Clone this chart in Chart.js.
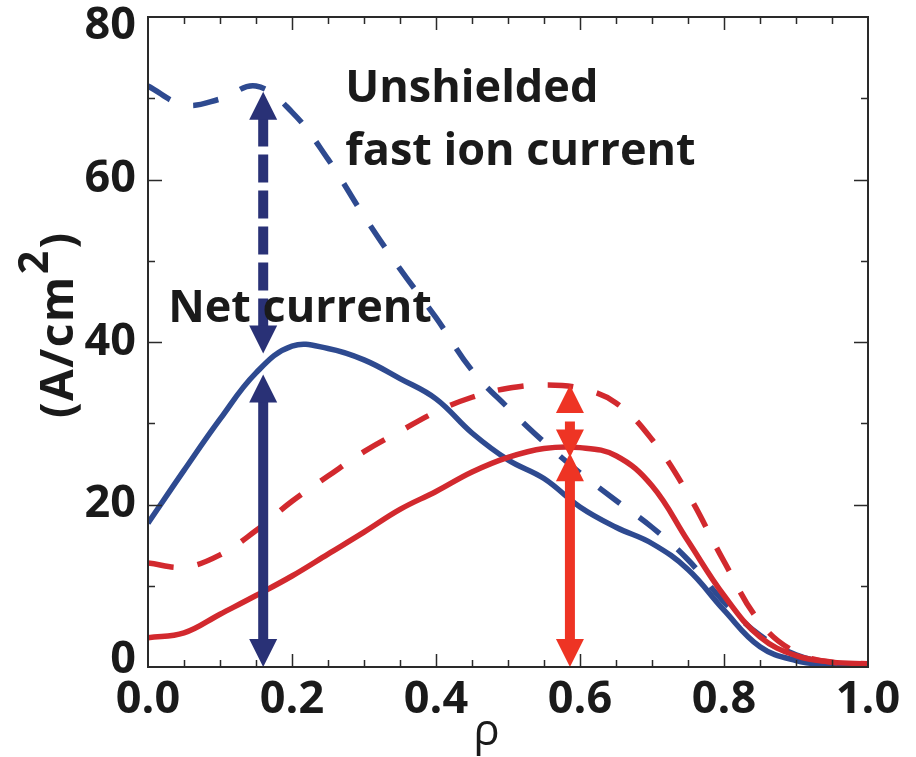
<!DOCTYPE html>
<html>
<head>
<meta charset="utf-8">
<script src="https://cdn.jsdelivr.net/npm/chart.js@4.4.1/dist/chart.umd.min.js"></script>
<style>
  html, body { margin: 0; padding: 0; background: #ffffff; }
  #wrap { width: 916px; height: 757px; }
</style>
</head>
<body>
<div id="wrap"><canvas id="c" width="916" height="757"></canvas></div>
<script>
// ---- Data ----
const rho = [0.00, 0.05, 0.10, 0.15, 0.20, 0.25, 0.30, 0.35, 0.40, 0.45, 0.50,
             0.55, 0.60, 0.65, 0.70, 0.75, 0.80, 0.85, 0.90, 0.95, 1.00];
const unshieldedFastIonBlue = [71.5, 69.2, 69.9, 71.5, 68.3, 62.5, 55.5, 49.0, 43.0, 36.5, 31.9,
                               27.7, 23.9, 20.5, 17.2, 13.2, 8.0, 3.9, 1.5, 0.5, 0.2];
const netCurrentBlue        = [17.7, 24.2, 30.5, 36.2, 39.5, 39.2, 37.8, 35.5, 33.0, 28.8, 25.5,
                               23.2, 19.7, 17.2, 15.2, 12.0, 7.0, 2.5, 0.8, 0.2, 0.0];
const unshieldedFastIonRed  = [12.8, 12.3, 13.8, 16.8, 20.4, 23.5, 26.5, 29.0, 31.4, 33.2, 34.3,
                               34.7, 34.3, 32.5, 28.0, 21.3, 13.0, 5.5, 1.8, 0.6, 0.4];
const netCurrentRed         = [3.6, 4.2, 6.5, 8.8, 11.2, 13.9, 16.6, 19.4, 21.6, 24.0, 25.8,
                               26.9, 27.0, 26.0, 22.3, 15.5, 8.8, 3.7, 1.4, 0.6, 0.4];

// double arrows: position on rho axis, lower and upper tip values
const arrowRho   = [0.16, 0.16, 0.586, 0.586];
const arrowLow   = [38.6, 0.0, 25.8, 0.0];
const arrowHigh  = [70.8, 36.0, 34.7, 26.3];
const arrowDashed = [true, false, true, false];

const xTicks = [0.0, 0.2, 0.4, 0.6, 0.8, 1.0];
const yTicks = [0, 20, 40, 60, 80];

const annotations = [
  { text: 'Unshielded', x: 0.274, y: 69.5 },
  { text: 'fast ion current', x: 0.274, y: 61.8 },
  { text: 'Net current', x: 0.028, y: 42.5 }
];

// ---- Styles ----
const BLUE = '#2e4a90';
const RED = '#d2292e';
const BLUE_ARROW = '#293176';
const RED_ARROW = '#ee3424';
const INK = '#1a1a1a';
const FONT = '"Open Sans", "Liberation Sans", sans-serif';

function pts(ys) { return rho.map((x, i) => ({ x: x, y: ys[i] })); }

const frameAndTicks = {
  id: 'frameAndTicks',
  afterDraw(chart) {
    const { ctx, chartArea: a, scales: { x, y } } = chart;
    ctx.save();
    ctx.strokeStyle = '#2a2a2a';
    ctx.lineWidth = 2;
    ctx.strokeRect(a.left, a.top, a.right - a.left, a.bottom - a.top);
    ctx.lineWidth = 1.5;
    ctx.beginPath();
    for (let i = 1; i < 20; i++) {
      const v = i * 0.05;
      const px = Math.round(x.getPixelForValue(v)) + 0.5;
      const len = (i % 4 === 0) ? 13 : 7;
      ctx.moveTo(px, a.bottom); ctx.lineTo(px, a.bottom - len);
      ctx.moveTo(px, a.top); ctx.lineTo(px, a.top + len);
    }
    for (let i = 1; i < 8; i++) {
      const v = i * 10;
      const py = Math.round(y.getPixelForValue(v)) + 0.5;
      const len = (i % 2 === 0) ? 14 : 7;
      ctx.moveTo(a.left, py); ctx.lineTo(a.left + len, py);
      ctx.moveTo(a.right, py); ctx.lineTo(a.right - len, py);
    }
    ctx.stroke();

    // y axis title "(A/cm2)" with raised 2
    ctx.fillStyle = INK;
    ctx.textBaseline = 'alphabetic';
    ctx.textAlign = 'left';
    ctx.save();
    ctx.translate(a.left - 75, a.bottom - 249);
    ctx.rotate(-Math.PI / 2);
    if ('letterSpacing' in ctx) ctx.letterSpacing = '1.5px';
    ctx.font = 'bold 46px ' + FONT;
    const part1 = '(A/cm';
    ctx.fillText(part1, 0, 0);
    let w = ctx.measureText(part1).width + 1;
    ctx.font = 'bold 41px ' + FONT;
    ctx.fillText('2', w, -25);
    w += ctx.measureText('2').width + 1;
    ctx.font = 'bold 46px ' + FONT;
    ctx.fillText(')', w, 0);
    ctx.restore();

    // x axis title
    ctx.textAlign = 'center';
    ctx.font = '44px ' + FONT;
    ctx.fillText('\u03C1', x.getPixelForValue(0.47), 745);
    ctx.restore();
  }
};

function drawHead(ctx, px, tipY, dir, w, len) {
  // dir = -1 pointing up, +1 pointing down
  ctx.beginPath();
  ctx.moveTo(px, tipY);
  ctx.lineTo(px - w / 2, tipY - dir * len);
  ctx.lineTo(px + w / 2, tipY - dir * len);
  ctx.closePath();
  ctx.fill();
}

const arrowsAndText = {
  id: 'arrowsAndText',
  afterDatasetsDraw(chart) {
    const { ctx, scales: { x, y } } = chart;
    ctx.save();
    for (let i = 0; i < arrowRho.length; i++) {
      const col = (arrowRho[i] < 0.4) ? BLUE_ARROW : RED_ARROW;
      const px = x.getPixelForValue(arrowRho[i]);
      const yTop = y.getPixelForValue(arrowHigh[i]);
      const yBot = y.getPixelForValue(arrowLow[i]);
      const headLen = 28, headW = 28;
      ctx.fillStyle = col;
      ctx.strokeStyle = col;
      ctx.lineWidth = 10;
      ctx.lineCap = 'butt';
      ctx.beginPath();
      ctx.setLineDash(arrowDashed[i] ? (arrowRho[i] < 0.4 ? [28, 8] : [9, 9]) : []);
      ctx.moveTo(px, yBot - headLen + 1);
      ctx.lineTo(px, yTop + headLen - 1);
      ctx.stroke();
      ctx.setLineDash([]);
      drawHead(ctx, px, yTop, -1, headW, headLen);
      drawHead(ctx, px, yBot, 1, headW, headLen);
    }
    ctx.fillStyle = INK;
    ctx.font = 'bold 45px ' + FONT;
    ctx.textAlign = 'left';
    ctx.textBaseline = 'alphabetic';
    for (const an of annotations) {
      ctx.fillText(an.text, x.getPixelForValue(an.x), y.getPixelForValue(an.y));
    }
    ctx.restore();
  }
};

const ctx = document.getElementById('c').getContext('2d');
new Chart(ctx, {
  type: 'line',
  data: {
    datasets: [
      { label: 'Unshielded fast ion current (red)', data: pts(unshieldedFastIonRed), borderColor: RED, borderDash: [26, 24] },
      { label: 'Net current (red)', data: pts(netCurrentRed), borderColor: RED },
      { label: 'Unshielded fast ion current (blue)', data: pts(unshieldedFastIonBlue), borderColor: BLUE, borderDash: [26, 24] },
      { label: 'Net current (blue)', data: pts(netCurrentBlue), borderColor: BLUE }
    ].map(d => Object.assign({
      borderWidth: 5.5, pointRadius: 0, pointHoverRadius: 0, fill: false,
      tension: 0.4, borderCapStyle: 'butt'
    }, d))
  },
  options: {
    responsive: false,
    animation: false,
    events: [],
    layout: { padding: { top: 17, right: 48, left: 0, bottom: 0 } },
    plugins: { legend: { display: false }, tooltip: { enabled: false } },
    scales: {
      x: {
        type: 'linear', min: 0, max: 1,
        afterFit(s) { s.height = 90; s.paddingLeft = 0; s.paddingRight = 0; },
        afterBuildTicks(s) { s.ticks = xTicks.map(v => ({ value: v })); },
        grid: { display: false, drawTicks: false },
        border: { display: false },
        ticks: {
          color: INK, padding: 6,
          font: { family: FONT, size: 45, weight: 'bold' },
          callback: v => Number(v).toFixed(1),
          maxRotation: 0, autoSkip: false
        }
      },
      y: {
        type: 'linear', min: 0, max: 80,
        afterFit(s) { s.width = 148; s.paddingTop = 0; s.paddingBottom = 0; },
        afterBuildTicks(s) { s.ticks = yTicks.map(v => ({ value: v })); },
        grid: { display: false, drawTicks: false },
        border: { display: false },
        ticks: {
          color: INK, padding: 12,
          font: (c) => ({
            family: FONT, size: 45, weight: 'bold',
            lineHeight: (c.tick && c.tick.value === 80) ? '18px' : (c.tick && c.tick.value === 0) ? '14px' : 1.2
          }),
          callback: v => v === 80 ? ['', '80'] : (v === 0 ? ['0', ''] : String(v)),
          autoSkip: false
        }
      }
    }
  },
  plugins: [arrowsAndText, frameAndTicks]
});
</script>
</body>
</html>
